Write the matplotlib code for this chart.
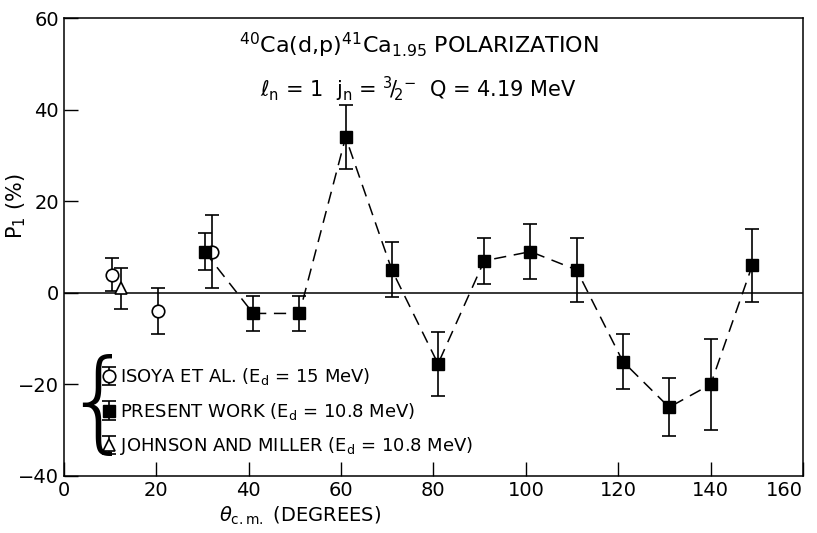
import matplotlib
matplotlib.use("Agg")
import matplotlib.pyplot as plt

plt.rcParams["font.family"] = "DejaVu Sans"
plt.rcParams["mathtext.fontset"] = "dejavusans"

# present work (E_d = 10.8 MeV), filled squares joined by dashed line
present_theta = [30.5, 41, 51, 61, 71, 81, 91, 101, 111, 121, 131, 140, 149]
present_pol = [9, -4.5, -4.5, 34, 5, -15.5, 7, 9, 5, -15, -25, -20, 6]
present_err = [4, 3.8, 3.8, 7, 6, 7, 5, 6, 7, 6, 6.3, 10, 8]

# Isoya et al. (E_d = 15 MeV), open circles
isoya_theta = [10.5, 20.5, 32]
isoya_pol = [4, -4, 9]
isoya_err = [3.5, 5, 8]

# Johnson and Miller (E_d = 10.8 MeV), open triangle
jm_theta = [12.3]
jm_pol = [1]
jm_err = [4.5]

fig = plt.figure(figsize=(8.17, 5.33), dpi=100)
ax = fig.add_axes([0.078, 0.107, 0.905, 0.859])

ax.axhline(0, color="black", linewidth=1.1, zorder=1)

ax.plot(present_theta, present_pol, color="black", linestyle=(0, (8, 5)),
        linewidth=1.1, zorder=2)

eb_kw = dict(color="black", ecolor="black", elinewidth=1.2, capsize=5,
             capthick=1.2, linestyle="none", zorder=3)
h_isoya = ax.errorbar(isoya_theta, isoya_pol, yerr=isoya_err, marker="o",
                      markersize=9, markerfacecolor="white",
                      markeredgewidth=1.2, **eb_kw)
h_present = ax.errorbar(present_theta, present_pol, yerr=present_err,
                        marker="s", markersize=9, markerfacecolor="black",
                        **eb_kw)
h_jm = ax.errorbar(jm_theta, jm_pol, yerr=jm_err, marker="^", markersize=9,
                   markerfacecolor="white", markeredgewidth=1.2, **eb_kw)

ax.set_xlim(0, 160)
ax.set_ylim(-40, 60)
ax.set_xticks(range(0, 161, 20))
ax.set_yticks(range(-40, 61, 20))
ax.tick_params(direction="in", length=10, width=1, labelsize=14,
               top=False, right=False)
ax.get_xticklabels()[-1].set_horizontalalignment("right")
for s in ax.spines.values():
    s.set_linewidth(1.1)

ax.set_xlabel(r"$\theta_{\mathrm{c.m.}}$ (DEGREES)", fontsize=14)
ax.xaxis.set_label_coords(0.32, -0.062)
ax.set_ylabel(r"P$_1$ (%)", fontsize=15)
ax.yaxis.set_label_coords(-0.048, 0.59)

ax.text(0.48, 0.94,
        r"$^{40}$Ca(d,p)$^{41}$Ca$_{1.95}$ POLARIZATION",
        transform=ax.transAxes, ha="center", va="center", fontsize=16)
ax.text(0.48, 0.845,
        r"$\ell_\mathrm{n}$ = 1  j$_\mathrm{n}$ = $^{3}\!/\!_{2}{}^{-}$  Q = 4.19 MeV",
        transform=ax.transAxes, ha="center", va="center", fontsize=15)

leg = ax.legend([h_isoya, h_present, h_jm],
                [r"ISOYA ET AL. (E$_\mathrm{d}$ = 15 MeV)",
                 r"PRESENT WORK (E$_\mathrm{d}$ = 10.8 MeV)",
                 r"JOHNSON AND MILLER (E$_\mathrm{d}$ = 10.8 MeV)"],
                loc="lower left", bbox_to_anchor=(0.035, 0.013),
                frameon=False, fontsize=13, handlelength=0.8,
                handletextpad=0.2, labelspacing=0.75, borderaxespad=0.3)
ax.text(0.047, 0.15, "{", transform=ax.transAxes, ha="center",
        va="center", fontsize=80, fontweight="light")

fig.savefig("out.png", dpi=100)
